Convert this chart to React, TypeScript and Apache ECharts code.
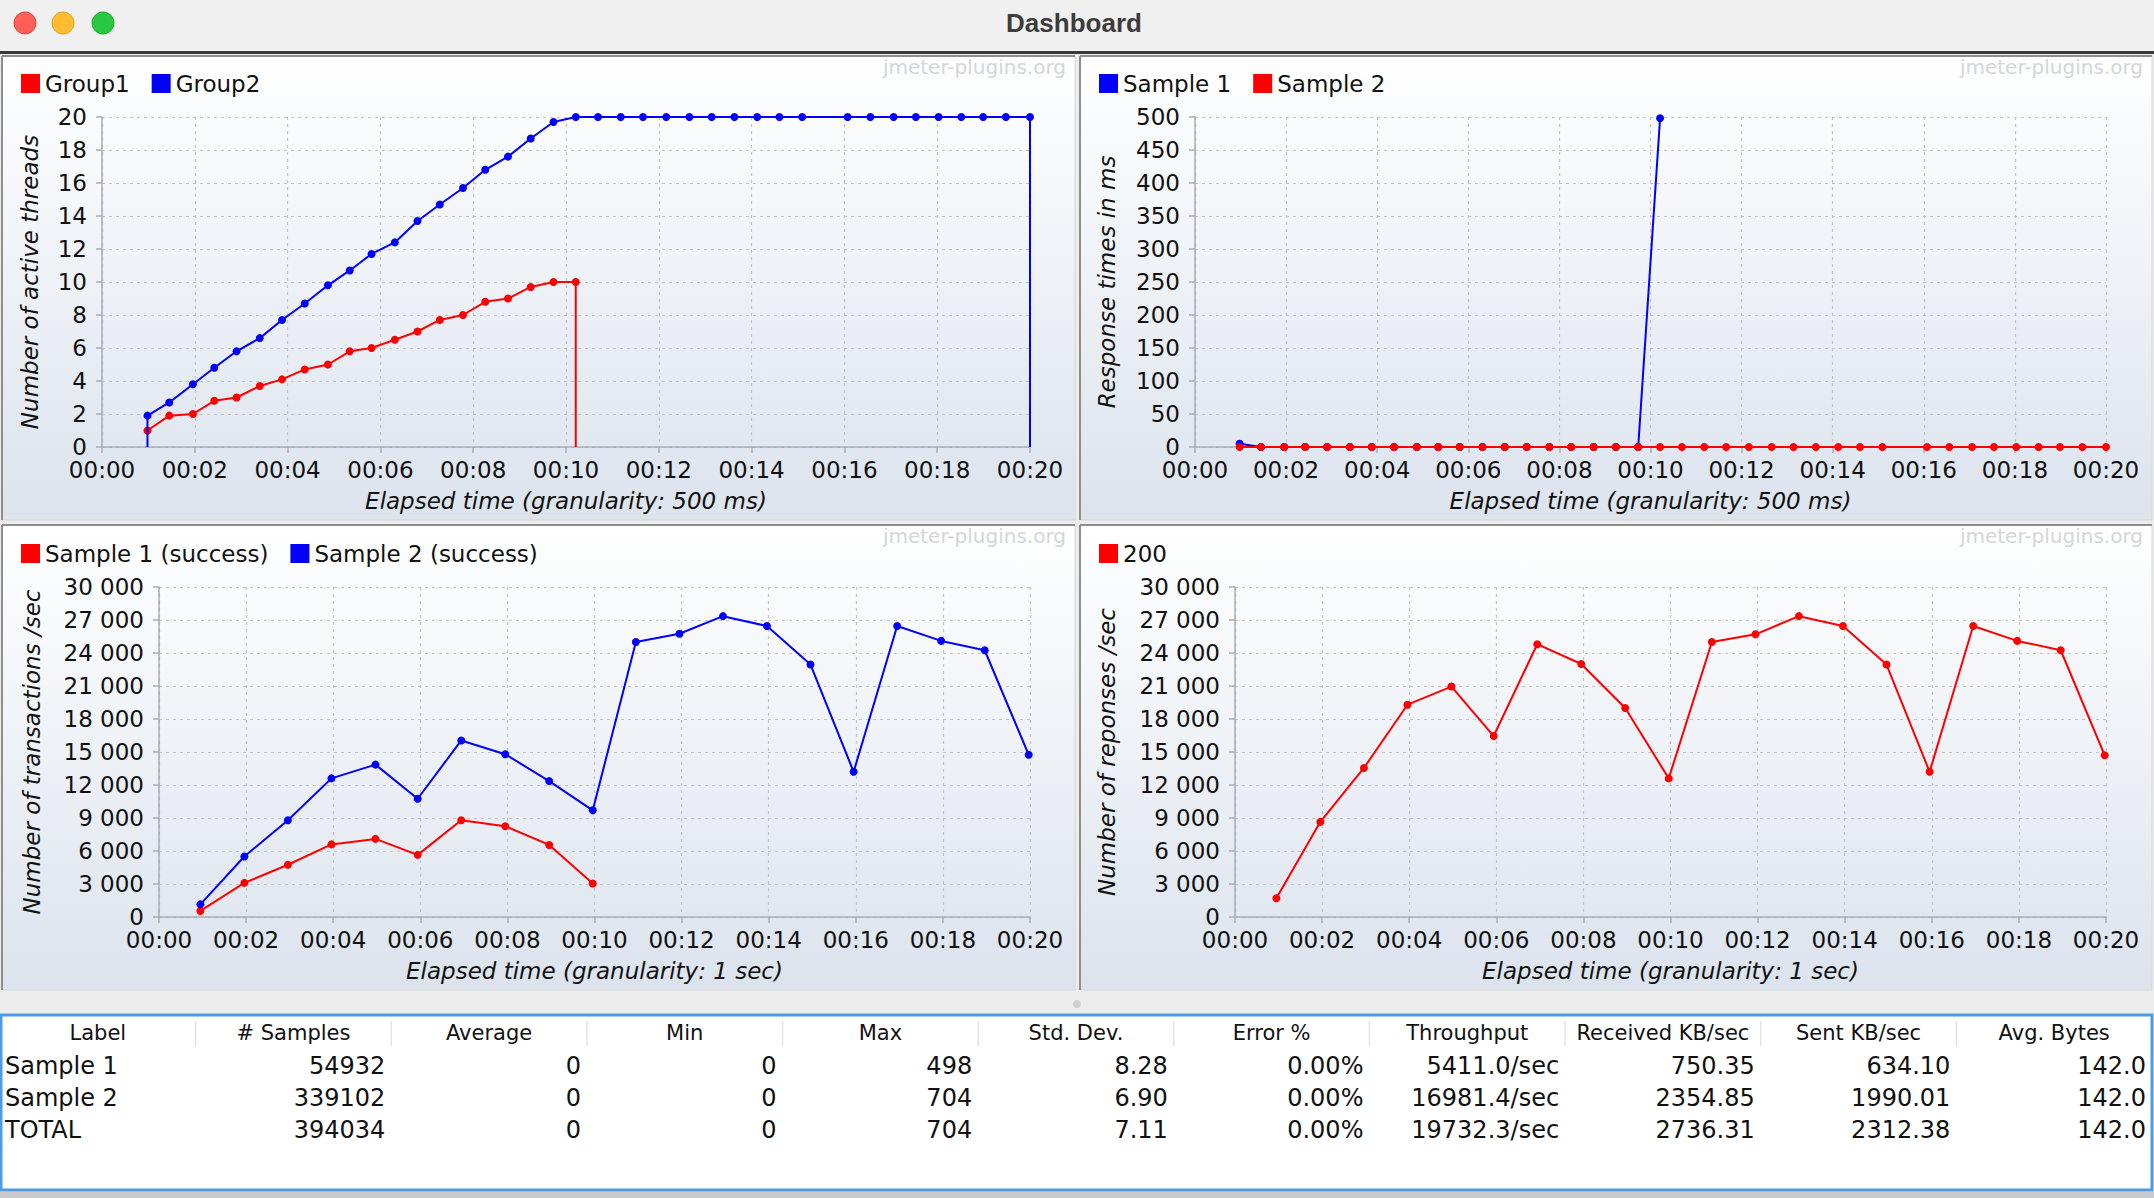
import React, { useEffect, useRef } from "react";
import * as echarts from "echarts";

const W = 2154;
const H = 1198;
const FONT = "'DejaVu Sans', 'Lucida Grande', sans-serif";

// ---------- data: top charts (granularity 500 ms) ----------
const timesHalfSec = [0.98, 1.45, 1.96, 2.42, 2.9, 3.4, 3.88, 4.37, 4.87, 5.34, 5.81, 6.31, 6.8, 7.28, 7.78, 8.26, 8.75, 9.24, 9.73, 10.21, 10.69, 11.18, 11.66, 12.16, 12.66, 13.14, 13.63, 14.12, 14.6, 15.09, 16.07, 16.56, 17.06, 17.54, 18.03, 18.52, 18.99, 19.48, 20.0];
const group1Threads = [1.0, 1.9, 2.0, 2.8, 3.0, 3.7, 4.1, 4.7, 5.0, 5.8, 6.0, 6.5, 7.0, 7.7, 8.0, 8.8, 9.0, 9.7, 10.0, 10.0];
const group2Threads = [1.9, 2.7, 3.8, 4.8, 5.8, 6.6, 7.7, 8.7, 9.8, 10.7, 11.7, 12.4, 13.7, 14.7, 15.7, 16.8, 17.6, 18.7, 19.7, 20, 20, 20, 20, 20, 20, 20, 20, 20, 20, 20, 20, 20, 20, 20, 20, 20, 20, 20, 20];
const sample1RespMs = [5, 0, 0, 0, 0, 0, 0, 0, 0, 0, 0, 0, 0, 0, 0, 0, 0, 0, 0, 498];
const sample2RespMs = [0, 0, 0, 0, 0, 0, 0, 0, 0, 0, 0, 0, 0, 0, 0, 0, 0, 0, 0, 0, 0, 0, 0, 0, 0, 0, 0, 0, 0, 0, 0, 0, 0, 0, 0, 0, 0, 0, 0];

// ---------- data: bottom charts (granularity 1 sec) ----------
const timesSec = [0.95, 1.96, 2.96, 3.96, 4.97, 5.94, 6.94, 7.95, 8.96, 9.96, 10.95, 11.95, 12.95, 13.96, 14.96, 15.95, 16.95, 17.96, 18.96, 19.97];
const sample1Tps = [550, 3100, 4750, 6600, 7100, 5650, 8800, 8250, 6550, 3050];
const sample2Tps = [1150, 5500, 8800, 12600, 13850, 10750, 16050, 14800, 12350, 9700, 25000, 25750, 27350, 26450, 22950, 13200, 26450, 25100, 24250, 14750];
const code200Rps = [1700, 8650, 13550, 19300, 20950, 16450, 24800, 23000, 19000, 12600, 25000, 25700, 27350, 26450, 22950, 13200, 26450, 25100, 24250, 14700];

// ---------- table ----------
const tableHeaders = ["Label", "# Samples", "Average", "Min", "Max", "Std. Dev.", "Error %", "Throughput", "Received KB/sec", "Sent KB/sec", "Avg. Bytes"];
const tableRows = [
  ["Sample 1", "54932", "0", "0", "498", "8.28", "0.00%", "5411.0/sec", "750.35", "634.10", "142.0"],
  ["Sample 2", "339102", "0", "0", "704", "6.90", "0.00%", "16981.4/sec", "2354.85", "1990.01", "142.0"],
  ["TOTAL", "394034", "0", "0", "704", "7.11", "0.00%", "19732.3/sec", "2736.31", "2312.38", "142.0"],
];

const RED = "#ff0000";
const BLUE = "#0000ff";

function pairs(times: number[], vals: number[]) {
  return vals.map((v, i) => [times[i], v]);
}
function withDrops(times: number[], vals: number[], dropStart: boolean) {
  const d: any[] = pairs(times, vals);
  const out: any[] = [];
  if (dropStart) out.push({ value: [times[0], 0], symbol: "none" });
  out.push(...d);
  out.push({ value: [times[vals.length - 1], 0], symbol: "none" });
  return out;
}

const timeFmt = (v: number) => "00:" + String(Math.round(v)).padStart(2, "0");
const thousandFmt = (v: number) => String(v).replace(/\B(?=(\d{3})+(?!\d))/g, " ");

function xAxisCfg(gridIndex: number, name: string) {
  return {
    type: "value",
    gridIndex,
    min: 0,
    max: 20,
    interval: 2,
    name,
    nameLocation: "middle",
    nameGap: 42,
    nameTextStyle: { fontStyle: "italic", fontSize: 23, color: "#111", fontFamily: FONT },
    axisLine: { show: true, onZero: false, lineStyle: { color: "#a9adb3", width: 1.5 } },
    axisTick: { show: true, length: 6, lineStyle: { color: "#a9adb3", width: 1.5 } },
    axisLabel: { color: "#111", fontSize: 23, lineHeight: 20, fontFamily: FONT, margin: 13, formatter: timeFmt },
    splitLine: { show: true, lineStyle: { color: "#c2c4c8", width: 1.2, type: [3, 4] } },
  };
}
function yAxisCfg(gridIndex: number, name: string, max: number, interval: number, nameGap: number, fmt?: (v: number) => string) {
  return {
    type: "value",
    gridIndex,
    min: 0,
    max,
    interval,
    name,
    nameLocation: "middle",
    nameGap,
    nameTextStyle: { fontStyle: "italic", fontSize: 23, color: "#111", fontFamily: FONT },
    axisLine: { show: true, lineStyle: { color: "#a9adb3", width: 1.5 } },
    axisTick: { show: true, length: 6, lineStyle: { color: "#a9adb3", width: 1.5 } },
    axisLabel: { color: "#111", fontSize: 23, lineHeight: 20, fontFamily: FONT, margin: 15, formatter: fmt },
    splitLine: { show: true, lineStyle: { color: "#c2c4c8", width: 1.2, type: [3, 4] } },
  };
}
function lineSeries(name: string, color: string, xi: number, data: any[], z: number) {
  return {
    type: "line",
    name,
    xAxisIndex: xi,
    yAxisIndex: xi,
    data,
    color,
    z,
    symbol: "circle",
    symbolSize: 8,
    showSymbol: true,
    showAllSymbol: true,
    clip: false,
    lineStyle: { color, width: 2 },
    itemStyle: { color },
    emphasis: { disabled: true },
  };
}
function legendCfg(left: number, top: number, data: string[]) {
  return {
    left,
    top,
    icon: "rect",
    itemWidth: 19,
    itemHeight: 19,
    itemGap: 22,
    selectedMode: false,
    data,
    textStyle: { fontSize: 23, fontFamily: FONT, color: "#111" },
  };
}

const panels = [
  { x: 2, y: 56, w: 1073, h: 464 },
  { x: 1080, y: 56, w: 1072, h: 464 },
  { x: 2, y: 525, w: 1073, h: 465 },
  { x: 1080, y: 525, w: 1072, h: 465 },
];

function buildGraphics() {
  const g: any[] = [];
  g.push({ type: "rect", z: -100, shape: { x: 0, y: 0, width: W, height: H }, style: { fill: "#ececec" } });
  g.push({ type: "rect", z: -99, shape: { x: 0, y: 0, width: W, height: 52 }, style: { fill: "#f0f0f0" } });
  g.push({ type: "rect", z: -98, shape: { x: 0, y: 51, width: W, height: 3 }, style: { fill: "#3a3a3a" } });
  const lights = [
    { cx: 25, c: "#fe5f57", s: "#e0443e" },
    { cx: 63, c: "#febc2e", s: "#dea123" },
    { cx: 103, c: "#28c840", s: "#1aab29" },
  ];
  lights.forEach((l) =>
    g.push({ type: "circle", z: -97, shape: { cx: l.cx, cy: 23, r: 11 }, style: { fill: l.c, stroke: l.s, lineWidth: 1 } })
  );
  g.push({
    type: "text",
    z: -97,
    x: 1074,
    y: 23,
    style: { text: "Dashboard", fontSize: 26, fontWeight: "bold", fontFamily: "'Liberation Sans', Arial, sans-serif", fill: "#3c3c3c", align: "center", verticalAlign: "middle" },
  });
  panels.forEach((p) => {
    g.push({
      type: "rect",
      z: -90,
      shape: { x: p.x, y: p.y, width: p.w, height: p.h },
      style: {
        fill: new echarts.graphic.LinearGradient(0, 0, 0, 1, [
          { offset: 0, color: "#ffffff" },
          { offset: 1, color: "#dce3ed" },
        ]),
        stroke: "#d6d6d6",
        lineWidth: 1,
      },
    });
    g.push({ type: "line", z: -89, shape: { x1: p.x, y1: p.y, x2: p.x + p.w, y2: p.y }, style: { stroke: "#8e8e8e", lineWidth: 2 } });
    g.push({ type: "line", z: -89, shape: { x1: p.x, y1: p.y, x2: p.x, y2: p.y + p.h }, style: { stroke: "#8e8e8e", lineWidth: 2 } });
    g.push({
      type: "text",
      z: -88,
      x: p.x + p.w - 9,
      y: p.y + 11,
      style: { text: "jmeter-plugins.org", fontSize: 20, fontFamily: FONT, fill: "#d3d6da", align: "right", verticalAlign: "middle" },
    });
  });
  g.push({ type: "circle", z: -80, shape: { cx: 1077, cy: 1004, r: 4 }, style: { fill: "#cfcfcf" } });
  g.push({ type: "rect", z: -80, shape: { x: 0, y: 1192, width: W, height: 6 }, style: { fill: "#c9c9c9" } });
  g.push({ type: "rect", z: -79, shape: { x: 1, y: 1015, width: 2151, height: 175 }, style: { fill: "#ffffff", stroke: "#4d9be3", lineWidth: 3 } });
  const colW = 2152 / tableHeaders.length;
  tableHeaders.forEach((h, i) => {
    g.push({
      type: "text",
      z: 5,
      x: (i + 0.5) * colW,
      y: 1033,
      style: { text: h, fontSize: 21, fontFamily: FONT, fill: "#111", align: "center", verticalAlign: "middle" },
    });
    if (i > 0) {
      g.push({ type: "line", z: 5, shape: { x1: i * colW, y1: 1021, x2: i * colW, y2: 1046 }, style: { stroke: "#e3e3e3", lineWidth: 1.5 } });
    }
  });
  const rowY = [1066, 1098, 1130];
  tableRows.forEach((row, r) => {
    row.forEach((cell, i) => {
      g.push({
        type: "text",
        z: 5,
        x: i === 0 ? 5 : (i + 1) * colW - 6,
        y: rowY[r],
        style: { text: cell, fontSize: 24, fontFamily: FONT, fill: "#111", align: i === 0 ? "left" : "right", verticalAlign: "middle" },
      });
    });
  });
  return g;
}

export default function App() {
  const ref = useRef<HTMLDivElement>(null);
  useEffect(() => {
    if (!ref.current) return;
    const chart = echarts.init(ref.current, undefined, { renderer: "svg", width: W, height: H });
    const option: any = {
      animation: false,
      textStyle: { fontFamily: FONT },
      graphic: { elements: buildGraphics() },
      grid: [
        { left: 102, top: 117, width: 928, height: 330 },
        { left: 1195, top: 117, width: 911, height: 330 },
        { left: 159, top: 587, width: 871, height: 330 },
        { left: 1235, top: 587, width: 871, height: 330 },
      ],
      xAxis: [
        xAxisCfg(0, "Elapsed time (granularity: 500 ms)"),
        xAxisCfg(1, "Elapsed time (granularity: 500 ms)"),
        xAxisCfg(2, "Elapsed time (granularity: 1 sec)"),
        xAxisCfg(3, "Elapsed time (granularity: 1 sec)"),
      ],
      yAxis: [
        yAxisCfg(0, "Number of active threads", 20, 2, 61),
        yAxisCfg(1, "Response times in ms", 500, 50, 77),
        yAxisCfg(2, "Number of transactions /sec", 30000, 3000, 116, thousandFmt),
        yAxisCfg(3, "Number of reponses /sec", 30000, 3000, 117, thousandFmt),
      ],
      legend: [
        legendCfg(16, 67, ["Group1", "Group2"]),
        legendCfg(1094, 67, ["Sample 1", "Sample 2"]),
        legendCfg(16, 537, ["Sample 1 (success)", "Sample 2 (success)"]),
        legendCfg(1094, 537, ["200"]),
      ],
      series: [
        lineSeries("Group1", RED, 0, withDrops(timesHalfSec, group1Threads, false), 2),
        lineSeries("Group2", BLUE, 0, withDrops(timesHalfSec, group2Threads, true), 3),
        lineSeries("Sample 1", BLUE, 1, pairs(timesHalfSec, sample1RespMs), 2),
        lineSeries("Sample 2", RED, 1, pairs(timesHalfSec, sample2RespMs), 3),
        lineSeries("Sample 1 (success)", RED, 2, pairs(timesSec, sample1Tps), 2),
        lineSeries("Sample 2 (success)", BLUE, 2, pairs(timesSec, sample2Tps), 3),
        lineSeries("200", RED, 3, pairs(timesSec, code200Rps), 2),
      ],
    };
    chart.setOption(option);
    return () => chart.dispose();
  }, []);
  return (
    <div
      ref={ref}
      style={{ position: "fixed", left: 0, top: 0, width: W, height: H, background: "#ececec" }}
    />
  );
}
